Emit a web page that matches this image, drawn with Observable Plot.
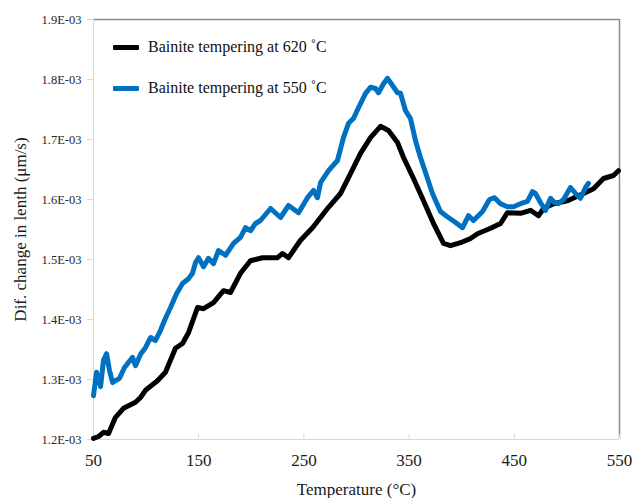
<!DOCTYPE html>
<html>
<head>
<meta charset="utf-8">
<script src="https://cdn.jsdelivr.net/npm/d3@7"></script>
<script src="https://cdn.jsdelivr.net/npm/@observablehq/plot@0.6"></script>
<style>
  body { margin: 0; background: #fff; }
  #chart { position: relative; width: 634px; height: 498px; font-family: "Liberation Serif", "Times New Roman", serif; }
  .legend-item { position: absolute; left: 113px; display: flex; align-items: center; font-size: 16px; color: #111; white-space: nowrap; line-height: 20px; }
  .legend-item .swatch { display: inline-block; width: 26px; height: 5px; margin-right: 9px; border-radius: 1px; }
</style>
</head>
<body>
<div id="chart"></div>
<script>
// Derivative of specimen length vs. temperature, values in units of 1E-03 µm/s
const xTicks = [50, 150, 250, 350, 450, 550];
const yTicks = [1.2, 1.3, 1.4, 1.5, 1.6, 1.7, 1.8, 1.9];

const seriesNames = ["Bainite tempering at 620 ˚C", "Bainite tempering at 550 ˚C"];
const seriesColors = ["#000000", "#0070c0"];

// Tempering at 620 °C
const temp620 = [50, 54.8, 59.5, 64.3, 70.9, 78.5, 89.9, 94.7, 99.4, 110.8,
  118.4, 127.9, 134.6, 140.3, 148.9, 154.6, 164.1, 173.6, 180.2, 189.7,
  199.2, 210.6, 224.9, 229.7, 235.4, 242.0, 246.8, 258.2, 265.8, 273.4,
  284.8, 294.3, 303.8, 313.3, 322.8, 330.4, 339.0, 344.7, 354.2, 363.7,
  373.2, 382.7, 389.4, 398.9, 408.4, 415.0, 427.4, 436.9, 443.5, 455.9,
  465.4, 473.0, 477.8, 487.3, 500.6, 515.8, 525.3, 534.8, 544.3, 549.0];
const dif620 = [1.202, 1.205, 1.212, 1.210, 1.237, 1.252, 1.262, 1.270, 1.282, 1.298,
  1.312, 1.352, 1.360, 1.378, 1.420, 1.418, 1.428, 1.448, 1.445, 1.477,
  1.498, 1.503, 1.503, 1.510, 1.503, 1.520, 1.532, 1.553, 1.570, 1.587,
  1.610, 1.643, 1.677, 1.703, 1.722, 1.715, 1.695, 1.670, 1.635, 1.598,
  1.560, 1.527, 1.523, 1.528, 1.535, 1.543, 1.552, 1.560, 1.578, 1.577,
  1.582, 1.573, 1.585, 1.593, 1.598, 1.610, 1.618, 1.635, 1.640, 1.648];

// Tempering at 550 °C
const temp550 = [50.0, 52.9, 56.7, 59.5, 62.4, 65.2, 68.1, 70.9, 74.7, 79.5,
  87.1, 89.9, 94.7, 99.4, 104.2, 108.9, 113.7, 118.4, 123.2, 128.9,
  134.6, 140.3, 144.1, 147.0, 149.8, 154.6, 159.3, 164.1, 168.8, 175.5,
  183.1, 189.7, 194.5, 199.2, 204.0, 208.7, 218.3, 227.8, 235.4, 244.9,
  253.4, 259.1, 262.9, 265.8, 273.4, 281.9, 287.6, 292.4, 297.1, 301.9,
  308.6, 313.3, 318.1, 320.9, 325.7, 329.5, 334.2, 339.0, 341.8, 346.6,
  351.3, 356.1, 360.8, 365.6, 372.2, 379.8, 385.6, 393.2, 400.8, 406.5,
  411.2, 419.8, 426.4, 431.2, 436.9, 443.5, 449.2, 455.9, 462.5, 467.3,
  470.1, 474.9, 479.7, 484.4, 488.2, 492.0, 496.8, 503.4, 508.2, 512.9,
  517.7, 520.5];
const dif550 = [1.273, 1.312, 1.288, 1.332, 1.343, 1.315, 1.295, 1.298, 1.302, 1.320,
  1.337, 1.323, 1.342, 1.353, 1.370, 1.365, 1.382, 1.402, 1.420, 1.443,
  1.460, 1.468, 1.477, 1.495, 1.503, 1.488, 1.502, 1.493, 1.515, 1.507,
  1.527, 1.537, 1.553, 1.548, 1.560, 1.565, 1.585, 1.570, 1.590, 1.578,
  1.603, 1.615, 1.603, 1.628, 1.648, 1.665, 1.703, 1.727, 1.735, 1.753,
  1.777, 1.787, 1.785, 1.778, 1.793, 1.802, 1.790, 1.778, 1.777, 1.748,
  1.735, 1.698, 1.670, 1.645, 1.610, 1.580, 1.572, 1.563, 1.553, 1.573,
  1.565, 1.580, 1.600, 1.603, 1.593, 1.588, 1.588, 1.593, 1.597, 1.613,
  1.610, 1.595, 1.582, 1.602, 1.595, 1.593, 1.600, 1.620, 1.610, 1.602,
  1.620, 1.627];

const rows620 = temp620.map((t, i) => ({temp: t, dif: dif620[i]}));
const rows550 = temp550.map((t, i) => ({temp: t, dif: dif550[i]}));

const serif = "Liberation Serif, Times New Roman, serif";
const lineStyle = {x: "temp", y: "dif", strokeWidth: 5, strokeLinejoin: "round", strokeLinecap: "round"};

const plot = Plot.plot({
  width: 634,
  height: 498,
  marginLeft: 93,
  marginRight: 15,
  marginTop: 19,
  marginBottom: 59,
  style: {fontFamily: serif, background: "#fff", overflow: "visible"},
  x: {domain: [xTicks[0], xTicks[xTicks.length - 1]]},
  y: {domain: [yTicks[0], yTicks[yTicks.length - 1]]},
  marks: [
    // plot-area border (top and right) and axis lines (left and bottom)
    Plot.ruleY([yTicks[yTicks.length - 1]], {stroke: "#8c8c8c", strokeWidth: 1.5}),
    Plot.ruleX([xTicks[xTicks.length - 1]], {stroke: "#8c8c8c", strokeWidth: 1.5}),
    Plot.ruleX([xTicks[0]], {stroke: "#d9d9d9"}),
    Plot.ruleY([yTicks[0]], {stroke: "#d9d9d9"}),
    Plot.axisY({ticks: yTicks, tickSize: 6, tickPadding: 6, stroke: "#d9d9d9", fill: "#262626",
      tickFormat: d => d.toFixed(1) + "E-03", fontSize: 12.5, label: null}),
    // x ticks point inward, labels sit below
    Plot.axisX({ticks: xTicks, tickSize: 5, dy: -5, stroke: "#d9d9d9", text: null, label: null}),
    Plot.axisX({ticks: xTicks, tickSize: 0, tickPadding: 14, fill: "#1a1a1a", fontSize: 17, label: null}),
    Plot.line(rows620, {...lineStyle, stroke: seriesColors[0]}),
    Plot.line(rows550, {...lineStyle, stroke: seriesColors[1]}),
    Plot.text(["Temperature (°C)"], {frameAnchor: "bottom", lineAnchor: "middle", textAnchor: "middle",
      dy: 50, fontSize: 17, fill: "#1a1a1a"}),
    Plot.text(["Dif. change in lenth (μm/s)"], {frameAnchor: "left", lineAnchor: "middle", textAnchor: "middle",
      dx: -73, rotate: -90, fontSize: 17, fill: "#1a1a1a"})
  ]
});

const chart = document.getElementById("chart");
chart.appendChild(plot);

// legend inside the plot area, upper left
const legendTops = [37, 78];
seriesNames.forEach((name, i) => {
  const item = document.createElement("div");
  item.className = "legend-item";
  item.style.top = legendTops[i] + "px";
  const sw = document.createElement("span");
  sw.className = "swatch";
  sw.style.background = seriesColors[i];
  const label = document.createElement("span");
  label.textContent = name;
  item.appendChild(sw);
  item.appendChild(label);
  chart.appendChild(item);
});
</script>
</body>
</html>
